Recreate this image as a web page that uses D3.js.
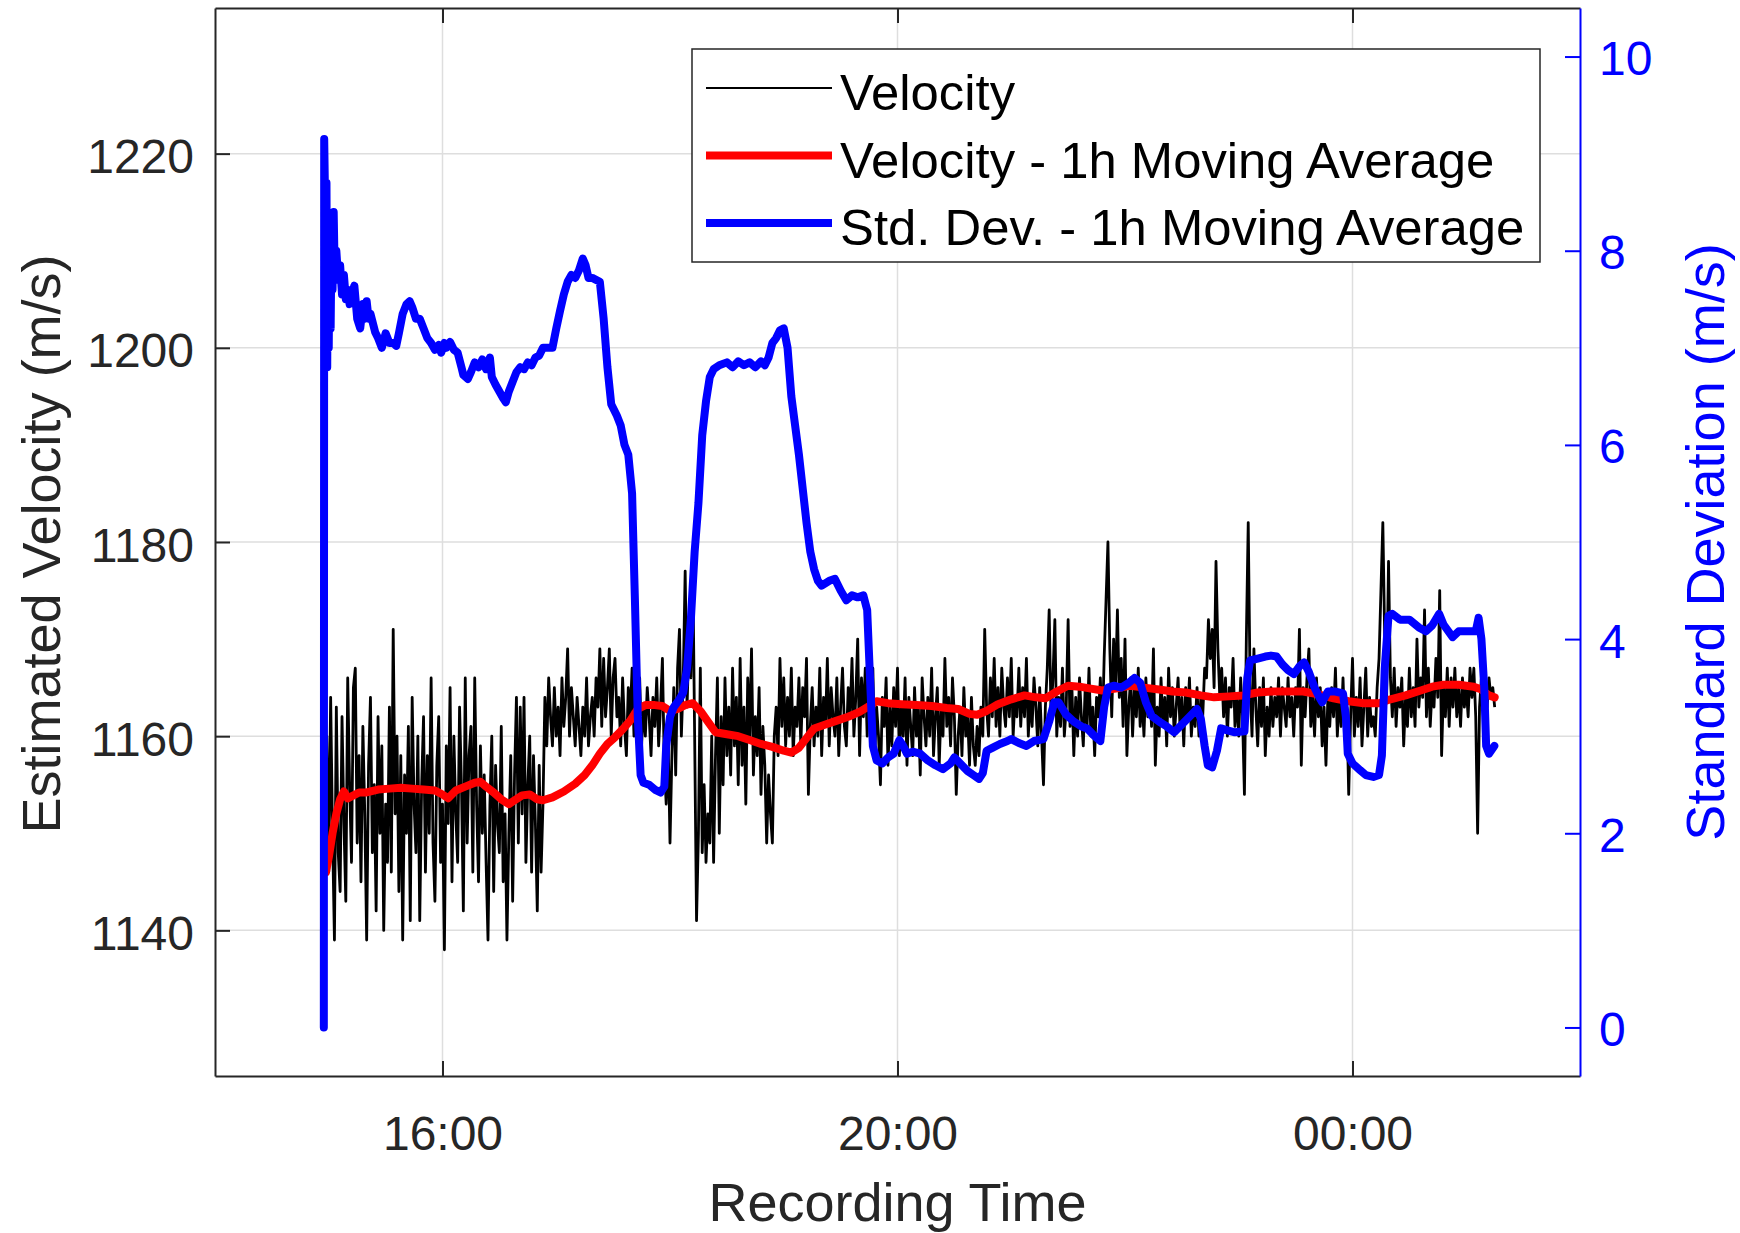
<!DOCTYPE html>
<html>
<head>
<meta charset="utf-8">
<script src="https://cdn.jsdelivr.net/npm/d3@7"></script>
<style>
  body { margin: 0; background: #fff; }
  text { font-family: "Liberation Sans", Arial, sans-serif; }
</style>
</head>
<body>
<div class="canva"></div>
<script>
// one velocity sample per minute, starting 57 min after 14:00
const velocityStart = 57;
const velocity = [
  1152, 1141, 1160, 1146, 1164, 1150, 1139, 1163, 1148, 1144,
  1162, 1151, 1143, 1166, 1155, 1147, 1165, 1167, 1149, 1158,
  1145, 1161, 1152, 1139, 1157, 1164, 1148, 1155, 1142, 1162,
  1150, 1159, 1140, 1153, 1147, 1163, 1146, 1171, 1152, 1160,
  1144, 1158, 1139, 1156, 1150, 1161, 1141, 1164, 1153, 1148,
  1160, 1141, 1155, 1162, 1146, 1158, 1150, 1166, 1149, 1143,
  1157, 1162, 1147, 1153, 1138, 1159, 1151, 1165, 1145, 1160,
  1152, 1147, 1163, 1155, 1142, 1166, 1149, 1158, 1161, 1146,
  1166, 1153, 1145, 1159, 1150, 1156, 1147, 1139, 1153, 1160,
  1144, 1157, 1151, 1148, 1161, 1145, 1152, 1139, 1150, 1158,
  1143, 1156, 1164, 1149, 1163, 1152, 1164, 1147, 1155, 1160,
  1146, 1158, 1151, 1142, 1157, 1146, 1153, 1164, 1159, 1166,
  1162, 1159, 1165, 1160, 1163, 1158, 1166, 1161, 1164, 1169,
  1160, 1165, 1162, 1159, 1164, 1161, 1158, 1163, 1160, 1166,
  1159, 1162, 1164, 1160, 1166, 1163, 1169, 1161, 1168, 1162,
  1165, 1169, 1160, 1166, 1168, 1162, 1164, 1159, 1166, 1161,
  1158, 1165, 1162, 1167, 1160, 1164, 1161, 1166, 1159, 1163,
  1160, 1165, 1162, 1158, 1164, 1161, 1166, 1159, 1163, 1168,
  1157, 1153, 1160, 1149, 1158, 1165, 1156, 1167, 1171, 1160,
  1166, 1177, 1163, 1170, 1166, 1178, 1160, 1141, 1150, 1167,
  1148, 1155, 1147, 1152, 1149, 1160, 1147, 1158, 1166, 1150,
  1162, 1155, 1166, 1158, 1163, 1156, 1167, 1159, 1164, 1155,
  1168, 1157, 1163, 1153, 1166, 1160, 1169, 1156, 1162, 1158,
  1165, 1154, 1161, 1157, 1149, 1156, 1152, 1149, 1160, 1163,
  1158, 1168, 1161, 1166, 1159, 1164, 1160, 1167, 1158, 1163,
  1161, 1166, 1159, 1165, 1162, 1168, 1154, 1161, 1165, 1159,
  1163, 1160, 1167, 1158, 1164, 1161, 1168, 1159, 1165, 1162,
  1160, 1166, 1158, 1163, 1167, 1161, 1159, 1165, 1162, 1168,
  1160, 1164, 1170, 1158, 1166, 1162, 1167, 1160, 1165, 1161,
  1167, 1158, 1163, 1160, 1155, 1164, 1161, 1166, 1157, 1163,
  1159, 1165, 1161, 1167, 1158, 1163, 1160, 1166, 1157, 1164,
  1161, 1158, 1165, 1160, 1163, 1156, 1166, 1162, 1159, 1164,
  1160, 1167, 1158, 1162, 1165, 1157, 1163, 1160, 1168, 1161,
  1164, 1159, 1166, 1162, 1154, 1160, 1163, 1158, 1165, 1160,
  1162, 1157, 1164, 1159, 1157, 1161, 1158, 1163, 1160, 1171,
  1163, 1160, 1166, 1162, 1168, 1161, 1165, 1160, 1167, 1163,
  1161, 1166, 1162, 1168, 1160, 1164, 1162, 1167, 1161, 1165,
  1162, 1168, 1160, 1164, 1161, 1166, 1163, 1159, 1165, 1160,
  1155, 1163, 1167, 1173, 1162, 1166, 1172, 1160, 1164, 1161,
  1167, 1160, 1163, 1172, 1161, 1165, 1158, 1164, 1160, 1166,
  1162, 1159, 1165, 1161, 1167, 1160, 1163, 1158, 1164, 1162,
  1166, 1160, 1168, 1174, 1180, 1169, 1162, 1170, 1165, 1173,
  1164, 1168, 1161, 1170, 1158, 1163, 1166, 1160, 1165, 1162,
  1167, 1161, 1164, 1160, 1166, 1162, 1165, 1161, 1169, 1157,
  1163, 1160, 1166, 1161, 1164, 1159, 1167, 1162, 1165, 1160,
  1163, 1166, 1161, 1164, 1159, 1165, 1162, 1166, 1160, 1163,
  1161, 1165, 1160, 1164, 1162, 1167, 1166, 1172, 1168, 1171,
  1165, 1178, 1169, 1164, 1167, 1162, 1166, 1160, 1165, 1163,
  1168, 1161, 1164, 1160, 1166, 1162, 1154, 1170, 1182, 1165,
  1160, 1169, 1163, 1159, 1165, 1161, 1166, 1158, 1163, 1160,
  1165, 1161, 1164, 1162, 1166, 1160, 1165, 1163, 1161, 1166,
  1162, 1164, 1160, 1165, 1163, 1171, 1157, 1165, 1162, 1166,
  1169, 1161, 1164, 1160, 1166, 1162, 1165, 1159, 1163, 1157,
  1164, 1161, 1165, 1162, 1167, 1160, 1164, 1161, 1166, 1160,
  1163, 1154, 1162, 1168, 1160, 1164, 1161, 1166, 1159, 1163,
  1167, 1160, 1164, 1161, 1162, 1160, 1165, 1168, 1175, 1182,
  1170, 1164, 1178, 1166, 1162, 1167, 1161, 1165, 1163, 1166,
  1159, 1164, 1161, 1167, 1162, 1165, 1161, 1170, 1163, 1166,
  1164, 1173, 1162, 1167, 1161, 1165, 1163, 1168, 1164, 1175,
  1158, 1165, 1162, 1167, 1161, 1166, 1163, 1167, 1162, 1165,
  1161, 1166, 1163, 1165, 1162, 1167, 1164, 1167, 1162, 1150,
  1163, 1166, 1164, 1165, 1163, 1166, 1164, 1165, 1163
];

// minutes after 14:00
const velocityMaMinutes = [
  58.5, 60, 62, 64, 66, 68, 70, 72, 76, 80, 86, 92, 98, 104, 110, 116, 120, 123,
  127, 132, 137, 140, 143, 147, 151, 155, 158, 162, 166, 170, 173, 178, 184, 190,
  195, 199, 203, 207, 211, 215, 219, 223, 227, 232, 236, 240, 244, 248, 252, 256,
  260, 264, 270, 276, 282, 288, 294, 300, 304, 308, 312, 316, 322, 328, 334, 340,
  345, 349, 355, 362, 370, 378, 386, 392, 398, 402, 407, 413, 420, 427, 433, 438,
  444, 450, 456, 462, 468, 475, 483, 490, 498, 505, 512, 520, 527, 535, 542, 550,
  558, 566, 574, 582, 590, 598, 606, 614, 620, 628, 636, 642, 648, 656, 664, 668,
  672, 675
];
const velocityMa = [
  1146.0, 1147.5, 1150.0, 1152.0, 1153.5, 1154.3, 1153.6, 1153.8, 1154.2, 1154.2,
  1154.5, 1154.6, 1154.7, 1154.6, 1154.5, 1154.4, 1154.0, 1153.6, 1154.4, 1154.8,
  1155.2, 1155.3, 1154.8, 1154.2, 1153.5, 1153.0, 1153.4, 1153.9, 1154.0, 1153.5,
  1153.4, 1153.7, 1154.3, 1155.1, 1156.0, 1157.0, 1158.2, 1159.2, 1159.9, 1160.7,
  1161.6, 1162.8, 1163.2, 1163.2, 1163.1, 1162.6, 1162.8, 1163.2, 1163.4, 1162.6,
  1161.5, 1160.4, 1160.2, 1160.0, 1159.6, 1159.2, 1158.9, 1158.5, 1158.3, 1158.8,
  1159.8, 1160.8, 1161.2, 1161.6, 1162.0, 1162.5, 1163.1, 1163.6, 1163.4, 1163.3,
  1163.2, 1163.1, 1162.9, 1162.8, 1162.3, 1162.2, 1162.6, 1163.3, 1163.8, 1164.2,
  1164.0, 1163.9, 1164.6, 1165.2, 1165.1, 1164.9, 1164.7, 1164.9, 1165.2, 1165.0,
  1164.8, 1164.6, 1164.5, 1164.2, 1164.0, 1164.1, 1164.2, 1164.5, 1164.6, 1164.6,
  1164.6, 1164.3, 1163.9, 1163.6, 1163.4, 1163.4, 1163.8, 1164.2, 1164.7, 1165.1,
  1165.3, 1165.3, 1165.1, 1164.8, 1164.2, 1164.0
];

const stdMaMinutes = [
  57.4, 57.6, 58.0, 58.4, 58.8, 59.2, 59.6, 60.0, 60.5, 61.0, 61.5, 62.0, 62.6, 63.2,
  64, 65, 66, 67, 68, 69, 70, 71, 72, 73.5, 75, 76.6, 78, 79, 80, 81, 82, 84.5, 86,
  88, 90, 92, 94, 95.6, 97, 99, 101, 102.7, 104, 106, 108, 110, 112, 114, 116, 118,
  119.3, 121, 122, 124, 126, 128, 130, 131, 133.4, 135, 137, 139, 141, 143, 145, 146,
  148, 150, 152, 153.4, 155, 157, 159, 161, 163, 165, 167, 169, 171, 173, 175, 178,
  180, 182, 184, 186, 188, 190, 192, 194, 195.5, 197, 199, 201, 203, 205, 207, 209,
  212, 214, 216, 218, 220, 221.5, 223, 224.5, 226, 229, 232, 235, 237, 238, 240, 242,
  245, 247, 249, 251, 253, 255, 257, 259, 261, 263, 266, 270, 273, 276, 279, 282, 285,
  288, 290, 292, 294, 296, 298, 300, 302, 304, 306, 308, 310, 312, 314, 316, 318, 320,
  324, 327, 330, 333, 336, 339, 342, 344, 345.5, 347, 349, 352, 355, 358, 361, 363,
  365, 368, 372, 376, 380, 384, 388, 390, 393, 397, 400, 403, 405, 407, 410, 414, 418,
  420, 424, 428, 432, 437, 440, 442.7, 445, 449, 453, 457, 460, 464, 467, 469, 471,
  474, 478, 482, 485, 488, 491, 494, 498, 502, 506, 510, 514, 518, 520, 522, 523.7,
  526, 528.5, 530.7, 534, 538, 543, 544.5, 546, 550, 554, 557, 560, 563, 566, 569,
  572, 574.5, 577, 580, 582.5, 584, 587, 591, 595, 596.5, 597.5, 600, 604, 607, 611,
  614, 615.5, 617, 619, 621, 625, 630, 635, 638.7, 642, 645.7, 648, 652.8, 656, 660,
  665, 666.5, 668, 669.5, 670.5, 672, 674.8
];
const stdMa = [
  0, 9.15, 8.6, 6.9, 8.7, 6.8, 8.4, 7.0, 8.3, 7.2, 8.2, 7.6, 8.4, 7.7,
  8.0, 7.7, 7.85, 7.55, 7.75, 7.5, 7.6, 7.45, 7.55, 7.64, 7.3, 7.2, 7.45, 7.3, 7.48, 7.3, 7.35, 7.16, 7.1,
  7.0, 7.15, 7.05, 7.05, 7.02, 7.15, 7.35, 7.45, 7.48, 7.42, 7.3, 7.3, 7.2, 7.1, 7.05, 6.98, 7.03,
  6.95, 7.05, 7.0, 7.06, 6.98, 6.95, 6.8, 6.72, 6.68, 6.75, 6.85, 6.8, 6.88, 6.78, 6.9, 6.7,
  6.62, 6.55, 6.48, 6.44, 6.55, 6.65, 6.75, 6.8, 6.78, 6.85, 6.82, 6.9, 6.92, 7.0, 7.0, 7.0,
  7.2, 7.38, 7.55, 7.68, 7.75, 7.72, 7.8, 7.92, 7.85, 7.72, 7.72, 7.7, 7.68, 7.3, 6.8, 6.42,
  6.3, 6.2, 6.0, 5.9, 5.5, 4.4, 3.2, 2.6, 2.52, 2.5, 2.45, 2.42, 2.48, 2.9, 3.2, 3.3,
  3.38, 3.45, 3.7, 4.2, 4.9, 5.4, 6.1, 6.45, 6.7, 6.78, 6.82, 6.85, 6.8, 6.86, 6.82, 6.85, 6.8,
  6.86, 6.82, 6.9, 7.05, 7.1, 7.18, 7.2, 7.0, 6.5, 6.2, 5.9, 5.55, 5.2, 4.9, 4.72, 4.6, 4.55,
  4.6, 4.62, 4.5, 4.4, 4.45, 4.43, 4.45, 4.3, 3.6, 2.9, 2.75, 2.72, 2.78, 2.82, 2.96, 2.9,
  2.82, 2.84, 2.82, 2.75, 2.7, 2.66, 2.72, 2.78, 2.72, 2.64, 2.6, 2.56, 2.62, 2.85, 2.88, 2.92, 2.95,
  2.97, 2.93, 2.9, 2.95, 2.97, 3.15, 3.35, 3.35, 3.22, 3.15, 3.1, 3.08, 3.0, 2.95, 3.3, 3.5,
  3.52, 3.5, 3.55, 3.6, 3.55, 3.35, 3.21, 3.15, 3.1, 3.04, 3.12, 3.2, 3.28, 3.18, 2.9, 2.7,
  2.68, 2.85, 3.08, 3.06, 3.04, 3.05, 3.6, 3.78, 3.8, 3.82, 3.83, 3.82, 3.74, 3.68, 3.64,
  3.72, 3.76, 3.66, 3.5, 3.4, 3.35, 3.46, 3.46, 3.44, 3.2, 2.82, 2.72, 2.65, 2.6, 2.58,
  2.6, 2.8, 3.7, 4.24, 4.26, 4.2, 4.2, 4.12, 4.08, 4.14, 4.26, 4.15, 4.02, 4.08, 4.08,
  4.08, 4.22, 4.0, 3.5, 2.9, 2.82, 2.9
];

const timeRange = ["14:00", "02:00"];
const xTicks = ["16:00", "20:00", "00:00"];
const velocityRange = [1125, 1235];
const velocityTicks = [1140, 1160, 1180, 1200, 1220];
const stdRange = [-0.5, 10.5];
const stdTicks = [0, 2, 4, 6, 8, 10];
const legendLabels = ["Velocity", "Velocity - 1h Moving Average", "Std. Dev. - 1h Moving Average"];
const legendColors = ["#000000", "#ff0000", "#0000ff"];

const dayStart = new Date(2020, 0, 1, 14, 0);
const atMinute = (m) => new Date(dayStart.getTime() + m * 60000);
const clock = function(s) {
  const [h, m] = s.split(":").map(Number);
  return atMinute(((h - 14 + 24) % 24) * 60 + m);
};

const axisColor = "#262626";
const blue = "#0000ff";

const svg = d3.select(".canva").append("svg")
              .attr("width", 1740)
              .attr("height", 1233);

const margin = {top: 8, right: 160, bottom: 157, left: 215};
const graphWidth = 1740 - margin.left - margin.right;
const graphHeight = 1233 - margin.top - margin.bottom;

const g = svg.append("g")
             .attr("transform", `translate(${margin.left},${margin.top})`);

const x = d3.scaleTime()
            .domain(timeRange.map(clock))
            .range([0, graphWidth]);

const y = d3.scaleLinear()
            .domain(velocityRange)
            .range([graphHeight, 0]);

const yR = d3.scaleLinear()
             .domain(stdRange)
             .range([graphHeight, 0]);

// grid
g.append("g").selectAll("line")
 .data(xTicks)
 .enter().append("line")
 .attr("x1", d => x(clock(d))).attr("x2", d => x(clock(d)))
 .attr("y1", 0).attr("y2", graphHeight)
 .attr("stroke", "#dedede").attr("stroke-width", 1.5);

g.append("g").selectAll("line")
 .data(velocityTicks)
 .enter().append("line")
 .attr("x1", 0).attr("x2", graphWidth)
 .attr("y1", d => y(d)).attr("y2", d => y(d))
 .attr("stroke", "#dedede").attr("stroke-width", 1.5);

// series
const velocityLine = d3.line()
                       .x((d, i) => x(atMinute(velocityStart + i)))
                       .y(d => y(d));

const maLine = d3.line()
                 .x((d, i) => x(atMinute(velocityMaMinutes[i])))
                 .y(d => y(d));

const stdLine = d3.line()
                  .x((d, i) => x(atMinute(stdMaMinutes[i])))
                  .y(d => yR(d));

g.append("path")
 .attr("d", velocityLine(velocity))
 .attr("fill", "none").attr("stroke", "#000").attr("stroke-width", 2.8)
 .attr("stroke-linejoin", "round");

g.append("path")
 .attr("d", maLine(velocityMa))
 .attr("fill", "none").attr("stroke", "#ff0000").attr("stroke-width", 8)
 .attr("stroke-linejoin", "round").attr("stroke-linecap", "round");

g.append("path")
 .attr("d", stdLine(stdMa))
 .attr("fill", "none").attr("stroke", blue).attr("stroke-width", 8)
 .attr("stroke-linejoin", "round").attr("stroke-linecap", "round");

// axes
const bottomAxis = g.append("g")
  .attr("transform", `translate(0,${graphHeight})`)
  .call(d3.axisBottom(x).tickValues(xTicks.map(clock))
          .tickFormat(d3.timeFormat("%H:%M")).tickSizeInner(-15).tickSizeOuter(0));
bottomAxis.selectAll("text").attr("y", 74).attr("dy", null)
          .style("font-size", "48px").attr("fill", axisColor);

const topAxis = g.append("g")
  .call(d3.axisTop(x).tickValues(xTicks.map(clock))
          .tickFormat("").tickSizeInner(-15).tickSizeOuter(0));

const leftAxis = g.append("g")
  .call(d3.axisLeft(y).tickValues(velocityTicks).tickFormat(d3.format("d"))
          .tickSizeInner(-15).tickSizeOuter(0));
leftAxis.selectAll("text").attr("x", -21).attr("dy", null).attr("y", 19)
        .style("font-size", "48px").attr("fill", axisColor);

const rightAxis = g.append("g")
  .attr("transform", `translate(${graphWidth},0)`)
  .call(d3.axisRight(yR).tickValues(stdTicks).tickFormat(d3.format("d"))
          .tickSizeInner(-15).tickSizeOuter(0));
rightAxis.selectAll("text").attr("x", 19).attr("dy", null).attr("y", 18)
         .style("font-size", "48px").attr("fill", blue);

[bottomAxis, topAxis, leftAxis].forEach(a => {
  a.selectAll("path, line").attr("stroke", axisColor).attr("stroke-width", 2);
});
rightAxis.selectAll("path, line").attr("stroke", blue).attr("stroke-width", 2);

// axis labels
svg.append("text")
   .attr("x", margin.left + graphWidth / 2).attr("y", 1221)
   .attr("text-anchor", "middle").style("font-size", "54px").attr("fill", axisColor)
   .text("Recording Time");

svg.append("text")
   .attr("transform", "translate(60,544) rotate(-90)")
   .attr("text-anchor", "middle").style("font-size", "54px").attr("fill", axisColor)
   .text("Estimated Velocity (m/s)");

svg.append("text")
   .attr("transform", "translate(1724,542) rotate(-90)")
   .attr("text-anchor", "middle").style("font-size", "54px").attr("fill", blue)
   .text("Standard Deviation (m/s)");

// legend
const legend = svg.append("g").attr("transform", "translate(692,49)");
legend.append("rect")
      .attr("width", 848).attr("height", 213)
      .attr("fill", "#fff").attr("stroke", axisColor).attr("stroke-width", 1.5);

const rows = legend.selectAll(".row")
                   .data(legendLabels)
                   .enter().append("g")
                   .attr("transform", (d, i) => `translate(0,${39 + i * 67.5})`);
rows.append("line")
    .attr("x1", 14).attr("x2", 140)
    .attr("stroke", (d, i) => legendColors[i])
    .attr("stroke-width", (d, i) => i === 0 ? 2 : 8);
rows.append("text")
    .attr("x", 148).attr("y", 22)
    .style("font-size", "50.8px").attr("fill", "#000")
    .text(d => d);
</script>
</body>
</html>
